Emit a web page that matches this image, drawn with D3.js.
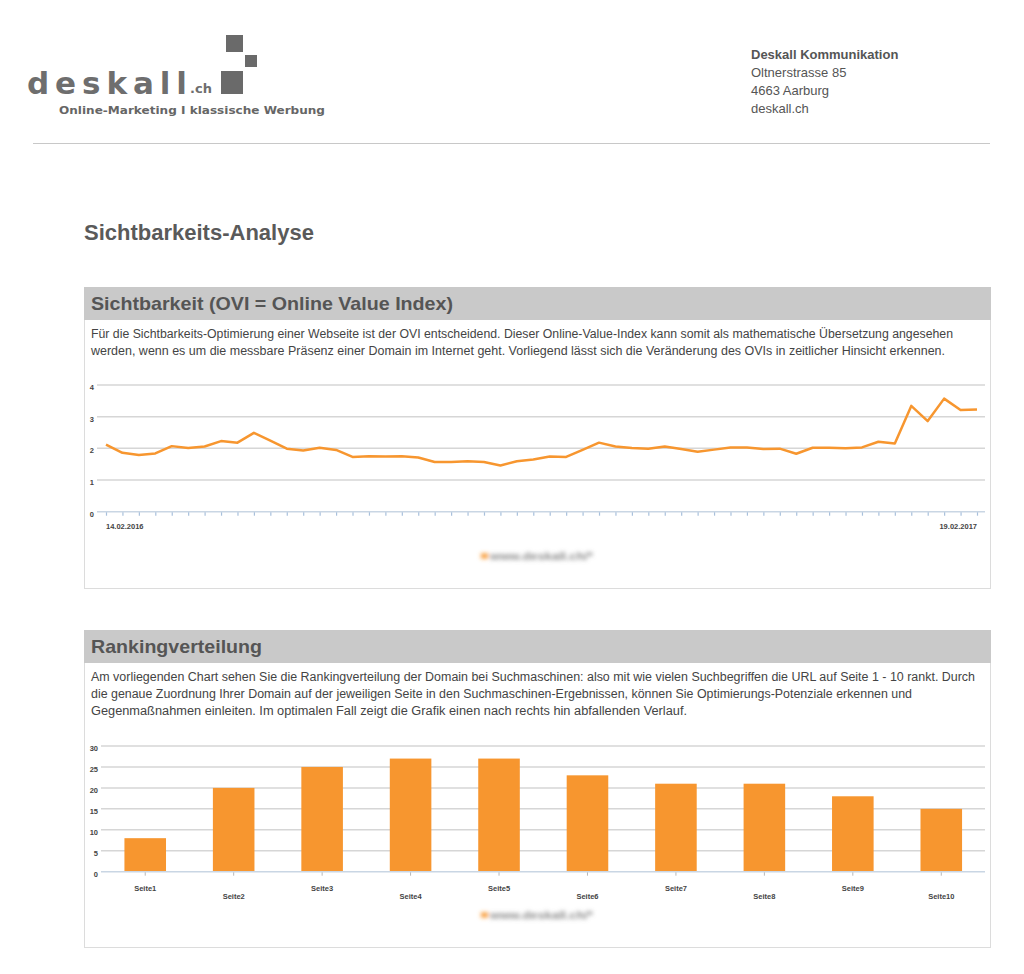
<!DOCTYPE html>
<html>
<head>
<meta charset="utf-8">
<script src="https://cdn.jsdelivr.net/npm/d3@7"></script>
<style>
  body { margin: 0; background: #fff; }
  svg { display: block; font-family: "Liberation Sans", Arial, sans-serif; }
</style>
</head>
<body>
<div id="page"></div>
<script>
// OVI weekly values, 14.02.2016 .. 19.02.2017
var ovi = [2.12, 1.86, 1.79, 1.84, 2.07, 2.01, 2.06, 2.23, 2.18, 2.49,
           2.24, 1.99, 1.93, 2.02, 1.95, 1.73, 1.75, 1.74, 1.75, 1.71,
           1.57, 1.57, 1.59, 1.57, 1.46, 1.59, 1.65, 1.74, 1.73, 1.95,
           2.18, 2.06, 2.01, 1.99, 2.06, 1.98, 1.89, 1.96, 2.03, 2.03,
           1.98, 1.99, 1.83, 2.02, 2.02, 2.00, 2.03, 2.21, 2.15, 3.34,
           2.86, 3.57, 3.21, 3.23];
var oviTicks = [0, 1, 2, 3, 4];
var dateLabels = ["14.02.2016", "19.02.2017"];

var pages = ["Seite1", "Seite2", "Seite3", "Seite4", "Seite5", "Seite6", "Seite7", "Seite8", "Seite9", "Seite10"];
var ranking = [8, 20, 25, 27, 27, 23, 21, 21, 18, 15];
var rankTicks = [0, 5, 10, 15, 20, 25, 30];

var legendLabel = "www.deskall.ch/*";

var text1 = [
  "Für die Sichtbarkeits-Optimierung einer Webseite ist der OVI entscheidend. Dieser Online-Value-Index kann somit als mathematische Übersetzung angesehen",
  "werden, wenn es um die messbare Präsenz einer Domain im Internet geht. Vorliegend lässt sich die Veränderung des OVIs in zeitlicher Hinsicht erkennen."
];
var text2 = [
  "Am vorliegenden Chart sehen Sie die Rankingverteilung der Domain bei Suchmaschinen: also mit wie vielen Suchbegriffen die URL auf Seite 1 - 10 rankt. Durch",
  "die genaue Zuordnung Ihrer Domain auf der jeweiligen Seite in den Suchmaschinen-Ergebnissen, können Sie Optimierungs-Potenziale erkennen und",
  "Gegenmaßnahmen einleiten. Im optimalen Fall zeigt die Grafik einen nach rechts hin abfallenden Verlauf."
];
var text1Width = [862, 854];
var text2Width = [884, 821, 596];

var orange = "#f7962f";
var width = 1024, height = 974;

var svg = d3.select("#page").append("svg")
    .attr("width", width)
    .attr("height", height);

var defs = svg.append("defs");
defs.append("filter").attr("id", "blur")
    .attr("x", "-20%").attr("y", "-80%").attr("width", "140%").attr("height", "260%")
  .append("feGaussianBlur").attr("stdDeviation", 2.2);

// ---- header: logo + address ----
var logo = svg.append("g");
logo.append("text")
    .attr("x", 27).attr("y", 94)
    .attr("font-family", "DejaVu Sans, sans-serif")
    .attr("font-size", 31)
    .attr("font-weight", "bold")
    .attr("textLength", 160)
    .attr("lengthAdjust", "spacing")
    .attr("fill", "#6e6e6e")
    .text("deskall");
logo.append("text")
    .attr("x", 190).attr("y", 93)
    .attr("font-family", "DejaVu Sans, sans-serif")
    .attr("font-size", 13)
    .attr("font-weight", "bold")
    .attr("fill", "#6e6e6e")
    .text(".ch");
logo.append("rect").attr("x", 226).attr("y", 35).attr("width", 17).attr("height", 17).attr("fill", "#6a6a6a");
logo.append("rect").attr("x", 245).attr("y", 55).attr("width", 12).attr("height", 12).attr("fill", "#6a6a6a");
logo.append("rect").attr("x", 221).attr("y", 71).attr("width", 22).attr("height", 23).attr("fill", "#6a6a6a");
logo.append("text")
    .attr("x", 59).attr("y", 114)
    .attr("font-family", "DejaVu Sans, sans-serif")
    .attr("font-size", 10.5)
    .attr("font-weight", "bold")
    .attr("textLength", 266)
    .attr("lengthAdjust", "spacingAndGlyphs")
    .attr("fill", "#666")
    .text("Online-Marketing I klassische Werbung");

var address = ["Oltnerstrasse 85", "4663 Aarburg", "deskall.ch"];
svg.append("text")
    .attr("x", 751).attr("y", 59)
    .attr("font-size", 13).attr("font-weight", "bold")
    .attr("fill", "#555")
    .text("Deskall Kommunikation");
svg.selectAll(".addr").data(address).enter().append("text")
    .attr("class", "addr")
    .attr("x", 751)
    .attr("y", function (d, i) { return 77 + i * 18; })
    .attr("font-size", 13)
    .attr("fill", "#555")
    .text(function (d) { return d; });

svg.append("line")
    .attr("x1", 33).attr("x2", 990).attr("y1", 143.5).attr("y2", 143.5)
    .attr("stroke", "#c8c8c8");

svg.append("text")
    .attr("x", 84).attr("y", 240)
    .attr("font-size", 22).attr("font-weight", "bold")
    .attr("fill", "#5a5a5a")
    .text("Sichtbarkeits-Analyse");

// ---- section boxes ----
function section(top, bottom, title, titleWidth, lines, widths) {
    var g = svg.append("g");
    g.append("rect")
        .attr("x", 84.5).attr("y", top + 0.5)
        .attr("width", 906).attr("height", bottom - top)
        .attr("fill", "none").attr("stroke", "#dcdcdc");
    g.append("rect")
        .attr("x", 84).attr("y", top)
        .attr("width", 907).attr("height", 33)
        .attr("fill", "#c9c9c9");
    g.append("text")
        .attr("x", 91).attr("y", top + 23)
        .attr("font-size", 19).attr("font-weight", "bold")
        .attr("textLength", titleWidth)
        .attr("lengthAdjust", "spacingAndGlyphs")
        .attr("fill", "#555")
        .text(title);
    g.selectAll(".desc").data(lines).enter().append("text")
        .attr("x", 91)
        .attr("y", function (d, i) { return top + 51 + i * 17; })
        .attr("font-size", 12.5)
        .attr("textLength", function (d, i) { return widths[i]; })
        .attr("lengthAdjust", "spacingAndGlyphs")
        .attr("fill", "#444")
        .text(function (d) { return d; });
    return g;
}
section(287, 588, "Sichtbarkeit (OVI = Online Value Index)", 362, text1, text1Width);
section(630, 947, "Rankingverteilung", 171, text2, text2Width);

function legend(y) {
    var g = svg.append("g").attr("filter", "url(#blur)");
    g.append("rect").attr("x", 481).attr("y", y - 2.5).attr("width", 7).attr("height", 5).attr("fill", orange);
    g.append("text")
        .attr("x", 490).attr("y", y + 4)
        .attr("font-size", 11).attr("font-weight", "bold")
        .attr("textLength", 103)
        .attr("lengthAdjust", "spacingAndGlyphs")
        .attr("fill", "#8a8a8a")
        .text(legendLabel);
}

// ---- line chart: OVI ----
var x1 = d3.scaleLinear().domain([0, ovi.length - 1]).range([106, 977]);
var y1 = d3.scaleLinear().domain([0, 4]).range([511.7, 385]);

var lc = svg.append("g");
lc.selectAll(".grid").data(oviTicks.slice(1)).enter().append("line")
    .attr("x1", 97).attr("x2", 985)
    .attr("y1", function (d) { return y1(d); })
    .attr("y2", function (d) { return y1(d); })
    .attr("stroke", "#d6d6d6").attr("stroke-width", 1.5);

var xAxis1 = lc.append("g")
    .attr("transform", "translate(0," + y1(0) + ")")
    .call(d3.axisBottom(x1).tickValues(d3.range(ovi.length)).tickSize(4).tickFormat(""));
xAxis1.select(".domain").remove();
xAxis1.selectAll(".tick line").attr("stroke", "#a8c0dc").attr("stroke-width", 1.2);
lc.append("line")
    .attr("x1", 97).attr("x2", 985)
    .attr("y1", y1(0)).attr("y2", y1(0))
    .attr("stroke", "#c9d6e4").attr("stroke-width", 1.5);

var yAxis1 = lc.append("g")
    .attr("transform", "translate(94,0)")
    .call(d3.axisLeft(y1).tickValues(oviTicks).tickSize(0).tickPadding(0).tickFormat(d3.format("d")));
yAxis1.select(".domain").remove();
yAxis1.selectAll("text")
    .attr("font-family", "Liberation Sans, Arial, sans-serif")
    .attr("font-size", 7.5).attr("font-weight", "bold")
    .attr("fill", "#444").attr("dy", "0.6em");

lc.append("path")
    .datum(ovi)
    .attr("fill", "none")
    .attr("stroke", orange)
    .attr("stroke-width", 2.5)
    .attr("stroke-linejoin", "round")
    .attr("d", d3.line().x(function (d, i) { return x1(i); }).y(function (d) { return y1(d); }));

lc.append("text")
    .attr("x", x1(0)).attr("y", 529)
    .attr("font-size", 7.5).attr("font-weight", "bold").attr("fill", "#444")
    .text(dateLabels[0]);
lc.append("text")
    .attr("x", x1(ovi.length - 1)).attr("y", 529)
    .attr("text-anchor", "end")
    .attr("font-size", 7.5).attr("font-weight", "bold").attr("fill", "#444")
    .text(dateLabels[1]);

legend(556);

// ---- bar chart: Rankingverteilung ----
var x2 = d3.scaleBand().domain(pages).range([101, 985.5]).paddingInner(0.53).paddingOuter(0.265);
var y2 = d3.scaleLinear().domain([0, 30]).range([871.7, 746]);

var bc = svg.append("g");
bc.selectAll(".grid").data(rankTicks.slice(1)).enter().append("line")
    .attr("x1", 101).attr("x2", 985)
    .attr("y1", function (d) { return y2(d); })
    .attr("y2", function (d) { return y2(d); })
    .attr("stroke", "#d6d6d6").attr("stroke-width", 1.5);

bc.selectAll(".bar").data(ranking).enter().append("rect")
    .attr("x", function (d, i) { return x2(pages[i]); })
    .attr("y", function (d) { return y2(d); })
    .attr("width", x2.bandwidth())
    .attr("height", function (d) { return y2(0) - y2(d); })
    .attr("fill", orange);

var xAxis2 = bc.append("g")
    .attr("transform", "translate(0," + y2(0) + ")")
    .call(d3.axisBottom(x2).tickSize(4).tickPadding(10));
xAxis2.select(".domain").remove();
xAxis2.selectAll(".tick line").attr("stroke", "#b8b8b8").attr("stroke-width", 1);
xAxis2.selectAll("text")
    .attr("font-family", "Liberation Sans, Arial, sans-serif")
    .attr("font-size", 7.5).attr("font-weight", "bold").attr("fill", "#444")
    .attr("dy", function (d, i) { return i % 2 ? "1.75em" : "0.75em"; });
bc.append("line")
    .attr("x1", 101).attr("x2", 985)
    .attr("y1", y2(0)).attr("y2", y2(0))
    .attr("stroke", "#c9d6e4").attr("stroke-width", 1.5);

var yAxis2 = bc.append("g")
    .attr("transform", "translate(98,0)")
    .call(d3.axisLeft(y2).tickValues(rankTicks).tickSize(0).tickPadding(0));
yAxis2.select(".domain").remove();
yAxis2.selectAll("text")
    .attr("font-family", "Liberation Sans, Arial, sans-serif")
    .attr("font-size", 7.5).attr("font-weight", "bold")
    .attr("fill", "#444").attr("dy", "0.6em");

legend(915);
</script>
</body>
</html>
